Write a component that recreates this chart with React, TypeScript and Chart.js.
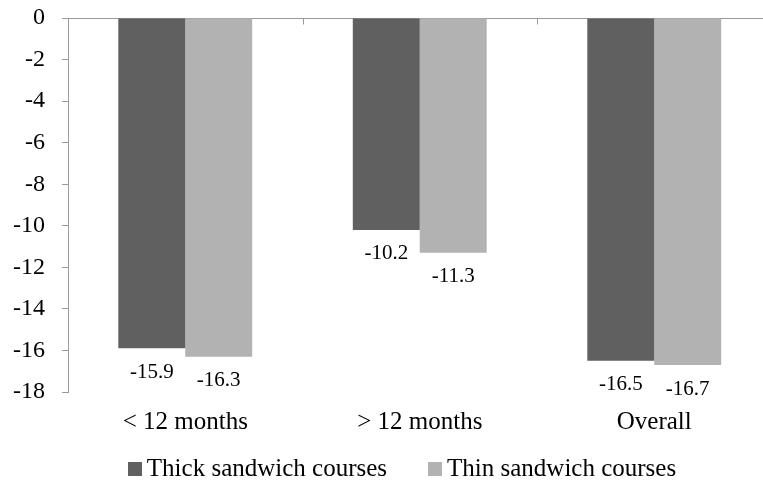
import React, { useEffect, useRef } from "react";
import { Chart, registerables } from "chart.js";

Chart.register(...registerables);

const categories = ["< 12 months", "> 12 months", "Overall"];
const thickValues = [-15.9, -10.2, -16.5];
const thinValues = [-16.3, -11.3, -16.7];
const seriesNames = ["Thick sandwich courses", "Thin sandwich courses"];
const seriesColors = ["#606060", "#b2b2b2"];
const yMin = -18;
const yMax = 0;
const yStep = 2;

const FONT = "'Liberation Serif', 'Times New Roman', serif";
const AXIS = "#9a9a9a";

const dataLabelPlugin = {
  id: "dataLabels",
  afterDatasetsDraw(chart: any) {
    const ctx = chart.ctx;
    ctx.save();
    ctx.font = `21px ${FONT}`;
    ctx.fillStyle = "#000";
    ctx.textAlign = "center";
    ctx.textBaseline = "middle";
    chart.data.datasets.forEach((ds: any, di: number) => {
      const meta = chart.getDatasetMeta(di);
      meta.data.forEach((bar: any, i: number) => {
        const v = ds.data[i];
        ctx.fillText(v.toFixed(1), bar.x, bar.y + 24);
      });
    });
    ctx.restore();
  },
};

const catTickPlugin = {
  id: "catTicks",
  afterDraw(chart: any) {
    const x = chart.scales.x;
    const y = chart.scales.y;
    const ctx = chart.ctx;
    const y0 = Math.round(y.getPixelForValue(0)) + 0.5;
    ctx.save();
    ctx.strokeStyle = AXIS;
    ctx.lineWidth = 1;
    for (let i = 1; i <= categories.length; i++) {
      const px = Math.round(x.getPixelForValue(i - 0.5)) + 0.5;
      ctx.beginPath();
      ctx.moveTo(px, y0);
      ctx.lineTo(px, y0 + 6);
      ctx.stroke();
    }
    ctx.restore();
  },
};

const legendPlugin = {
  id: "customLegend",
  afterDraw(chart: any) {
    const ctx = chart.ctx;
    const box = 14;
    const gap = 5;
    const between = 41;
    const centerX = 402;
    const centerY = 469;
    ctx.save();
    ctx.font = `25px ${FONT}`;
    ctx.textBaseline = "middle";
    ctx.textAlign = "left";
    const items = chart.data.datasets.map((ds: any) => ({
      text: ds.label,
      color: ds.backgroundColor,
      w: ctx.measureText(ds.label).width,
    }));
    let total = 0;
    items.forEach((it: any, i: number) => {
      total += box + gap + it.w + (i > 0 ? between : 0);
    });
    let x = centerX - total / 2;
    items.forEach((it: any) => {
      ctx.fillStyle = it.color;
      ctx.fillRect(Math.round(x), Math.round(centerY - box / 2), box, box);
      ctx.fillStyle = "#000";
      ctx.fillText(it.text, x + box + gap, centerY);
      x += box + gap + it.w + between;
    });
    ctx.restore();
  },
};

export default function App() {
  const ref = useRef<HTMLCanvasElement>(null);
  useEffect(() => {
    document.body.style.margin = "0";
    document.body.style.overflow = "hidden";
    const canvas = ref.current!;
    const chart = new Chart(canvas, {
      type: "bar",
      data: {
        labels: categories,
        datasets: [
          { label: seriesNames[0], data: thickValues, backgroundColor: seriesColors[0], borderWidth: 0 },
          { label: seriesNames[1], data: thinValues, backgroundColor: seriesColors[1], borderWidth: 0 },
        ],
      },
      options: {
        animation: false,
        responsive: false,
        devicePixelRatio: 1,
        layout: { padding: { left: 13, right: 8.5, top: 18, bottom: 48 } },
        datasets: { bar: { categoryPercentage: 0.571, barPercentage: 1 } },
        scales: {
          x: {
            grid: { display: false, drawTicks: false },
            border: { display: false },
            ticks: { color: "#000", font: { family: FONT, size: 25 }, padding: 15 },
            afterFit: (s: any) => {
              s.height = 45;
              s.paddingLeft = 0;
              s.paddingRight = 0;
            },
          },
          y: {
            min: yMin,
            max: yMax,
            ticks: { stepSize: yStep, color: "#000", font: { family: FONT, size: 24 }, padding: 17 },
            grid: {
              color: (c: any) => (c.tick && c.tick.value === 0 ? AXIS : "rgba(0,0,0,0)"),
              tickColor: AXIS,
              tickLength: 6,
              drawOnChartArea: true,
            },
            border: { display: true, color: AXIS },
            afterFit: (s: any) => {
              s.width = 55;
              s.paddingTop = 0;
              s.paddingBottom = 0;
            },
          },
        },
        plugins: {
          legend: { display: false },
          tooltip: { enabled: false },
        },
      } as any,
      plugins: [dataLabelPlugin, catTickPlugin, legendPlugin],
    });
    return () => chart.destroy();
  }, []);
  return (
    <div style={{ width: 780, height: 485 }}>
      <canvas ref={ref} width={780} height={485} style={{ display: "block" }} />
    </div>
  );
}
